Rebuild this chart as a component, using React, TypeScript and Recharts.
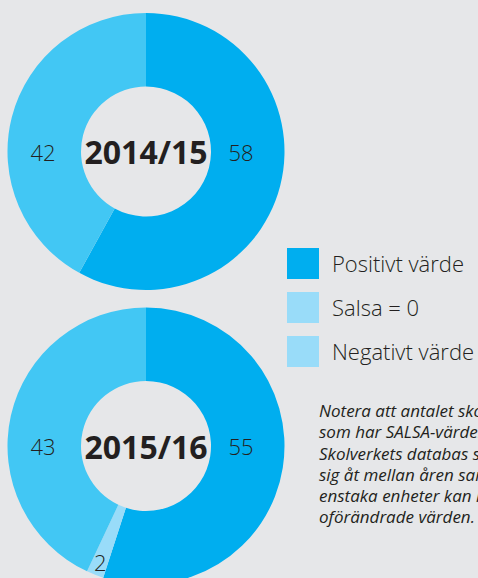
import React from "react";
import { PieChart, Pie, Cell } from "recharts";

const categories = ["Positivt värde", "Salsa = 0", "Negativt värde"];
const values201415 = [58, 0, 42];
const values201516 = [55, 2, 43];
const years = ["2014/15", "2015/16"];
const sliceColors = ["#00AEEF", "#99DCF9", "#42C7F4"];
const legendColors = ["#00AEEF", "#99DCF9", "#99DCF9"];
const noteLines = [
  "Notera att antalet skolenheter",
  "som har SALSA-värden i",
  "Skolverkets databas skiljer",
  "sig åt mellan åren samt att",
  "enstaka enheter kan ha",
  "oförändrade värden.",
];

const FONT = "'Open Sans', 'Noto Sans', sans-serif";
const TEXT = "#231F20";

const toData = (vals: number[]) =>
  categories.map((name, i) => ({ name, value: vals[i] }));

const RAD = Math.PI / 180;

const renderLabel = (p: any, year: string) => {
  const { cx, cy, midAngle, outerRadius, value, percent, index } = p;
  const c = Math.cos(-midAngle * RAD);
  const s = Math.sin(-midAngle * RAD);
  let x: number;
  let y: number;
  if (percent < 0.05) {
    const r = outerRadius - 14;
    x = cx + r * c;
    y = cy + r * s;
  } else {
    x = c >= 0 ? cx + 95 : cx - 103;
    y = cy;
  }
  return (
    <g>
      {value ? (
        <text
          x={x}
          y={y}
          textAnchor="middle"
          dominantBaseline="central"
          fill={TEXT}
          fontFamily={FONT}
          fontSize={22}
          fontWeight={300}
        >
          {value}
        </text>
      ) : null}
      {index === 0 ? (
        <text
          x={cx}
          y={cy}
          textAnchor="middle"
          dominantBaseline="central"
          fill={TEXT}
          fontFamily={FONT}
          fontSize={32}
          fontWeight={700}
        >
          {year}
        </text>
      ) : null}
    </g>
  );
};

export default function App() {
  const series = [values201415, values201516];
  const centersY = [151.5, 446];
  return (
    <div
      style={{
        position: "absolute",
        left: 0,
        top: 0,
        width: 478,
        height: 578,
        background: "#E6E7E9",
        overflow: "hidden",
        fontFamily: FONT,
      }}
    >
      <PieChart
        width={478}
        height={578}
        margin={{ top: 0, right: 0, bottom: 0, left: 0 }}
        style={{ position: "absolute", left: 0, top: 0 }}
      >
        {series.map((vals, k) => (
          <Pie
            key={years[k]}
            data={toData(vals)}
            dataKey="value"
            nameKey="name"
            cx={146}
            cy={centersY[k]}
            innerRadius={65}
            outerRadius={138.5}
            startAngle={90}
            endAngle={-270}
            stroke="none"
            isAnimationActive={false}
            labelLine={false}
            label={(p: any) => renderLabel(p, years[k])}
          >
            {vals.map((_, i) => (
              <Cell key={i} fill={sliceColors[i]} />
            ))}
          </Pie>
        ))}
      </PieChart>

      <div style={{ position: "absolute", left: 287, top: 248 }}>
        {categories.map((c, i) => (
          <div
            key={c}
            style={{ display: "flex", alignItems: "center", height: 44 }}
          >
            <div
              style={{
                width: 32,
                height: 31,
                background: legendColors[i],
                marginTop: -13,
              }}
            />
            <span
              style={{
                marginLeft: 13,
                marginTop: -15,
                fontSize: 22,
                color: TEXT,
                fontWeight: 300,
                whiteSpace: "nowrap",
              }}
            >
              {c}
            </span>
          </div>
        ))}
      </div>

      <div
        style={{
          position: "absolute",
          left: 319,
          top: 400,
          fontSize: 17,
          lineHeight: "21.3px",
          fontStyle: "italic",
          color: TEXT,
          whiteSpace: "nowrap",
        }}
      >
        {noteLines.map((l) => (
          <div key={l}>{l}</div>
        ))}
      </div>
    </div>
  );
}
